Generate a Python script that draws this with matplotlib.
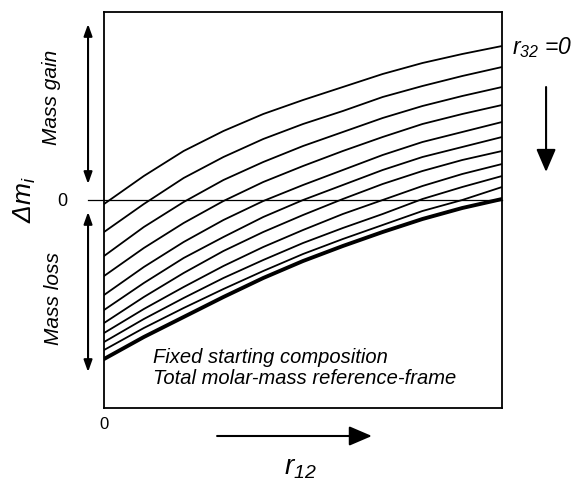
import matplotlib
matplotlib.use("Agg")
import matplotlib.pyplot as plt

# r12 positions along the x axis (fraction of the plotted range)
r12 = [0.0, 0.1, 0.2, 0.3, 0.4, 0.5, 0.6, 0.7, 0.8, 0.9, 1.0]

# Delta m_i curves, top (r32 = 0) to bottom (thick curve)
curve_01 = [-0.04, 0.24, 0.49, 0.69, 0.86, 1.00, 1.13, 1.26, 1.37, 1.46, 1.54]
curve_02 = [-0.32, -0.04, 0.22, 0.43, 0.61, 0.76, 0.89, 1.03, 1.14, 1.24, 1.33]
curve_03 = [-0.56, -0.27, -0.02, 0.20, 0.38, 0.54, 0.68, 0.82, 0.94, 1.04, 1.13]
curve_04 = [-0.76, -0.48, -0.23, -0.01, 0.18, 0.34, 0.49, 0.63, 0.76, 0.86, 0.95]
curve_05 = [-0.95, -0.67, -0.42, -0.20, -0.01, 0.15, 0.30, 0.45, 0.58, 0.68, 0.78]
curve_06 = [-1.10, -0.83, -0.58, -0.37, -0.17, 0.00, 0.15, 0.30, 0.43, 0.53, 0.63]
curve_07 = [-1.23, -0.97, -0.73, -0.51, -0.32, -0.15, 0.01, 0.16, 0.29, 0.40, 0.49]
curve_08 = [-1.33, -1.09, -0.87, -0.66, -0.47, -0.30, -0.14, 0.00, 0.14, 0.26, 0.36]
curve_09 = [-1.42, -1.19, -0.98, -0.78, -0.60, -0.43, -0.28, -0.14, 0.01, 0.13, 0.24]
curve_10 = [-1.50, -1.28, -1.08, -0.89, -0.71, -0.54, -0.39, -0.25, -0.11, 0.00, 0.13]
curve_11 = [-1.59, -1.37, -1.17, -0.97, -0.78, -0.61, -0.46, -0.32, -0.19, -0.08, 0.01]

thin_curves = [curve_01, curve_02, curve_03, curve_04, curve_05,
               curve_06, curve_07, curve_08, curve_09, curve_10]
thick_curve = curve_11

plt.rcParams["font.family"] = ["Liberation Sans", "DejaVu Sans"]
plt.rcParams["mathtext.fontset"] = "custom"
# every math label in the figure is italic, digits included
plt.rcParams["mathtext.rm"] = "Liberation Sans:italic"
plt.rcParams["mathtext.it"] = "Liberation Sans:italic"


def arrow(ax, start, end, style, lw=1.5, scale=10):
    """Draw an arrow between two points given in axes fraction."""
    ax.annotate("", xy=end, xytext=start, xycoords="axes fraction",
                textcoords="axes fraction", annotation_clip=False,
                arrowprops=dict(arrowstyle=style, lw=lw, color="black",
                                mutation_scale=scale, shrinkA=0, shrinkB=0))


def main():
    fig = plt.figure(figsize=(5.78, 4.89), dpi=100)
    ax = fig.add_axes([0.180, 0.1636, 0.6886, 0.8098])

    for values in thin_curves:
        ax.plot(r12, values, color="black", lw=1.3, solid_joinstyle="round")
    ax.plot(r12, thick_curve, color="black", lw=2.8, solid_joinstyle="round")

    # zero line, reaching a little past the left edge
    ax.plot([-0.04, 1.0], [0, 0], color="black", lw=0.9, clip_on=False)

    ax.set_xlim(0, 1)
    ax.set_ylim(-2.08, 1.88)
    ax.set_xticks([])
    ax.set_yticks([])
    for spine in ax.spines.values():
        spine.set_linewidth(1.3)

    # left side annotations
    ax.text(-0.1055, 0.525, "0", transform=ax.transAxes, fontsize=13,
            ha="center", va="center")
    ax.text(-0.199, 0.528, r"$Δm_{i}$", transform=ax.transAxes,
            fontsize=19, rotation=90, ha="center", va="center")
    ax.text(-0.131, 0.788, "Mass gain", transform=ax.transAxes, fontsize=15,
            style="italic", rotation=90, ha="center", va="center")
    ax.text(-0.128, 0.280, "Mass loss", transform=ax.transAxes, fontsize=15,
            style="italic", rotation=90, ha="center", va="center")
    gain_style = "<|-|>,head_length=0.7,head_width=0.25"
    arrow(ax, (-0.0402, 0.5657), (-0.0402, 0.9697), gain_style)
    arrow(ax, (-0.0402, 0.0909), (-0.0402, 0.495), gain_style)

    # right side label and arrow
    ax.text(1.025, 0.914, r"$r_{32}$ =0", transform=ax.transAxes,
            fontsize=16.5, style="italic", ha="left", va="center")
    big_head = "-|>,head_length=1.4,head_width=0.6"
    arrow(ax, (1.1106, 0.8106), (1.1106, 0.596), big_head)

    # text inside the plot
    ax.text(0.123, 0.131, "Fixed starting composition", transform=ax.transAxes,
            fontsize=14.5, style="italic", ha="left", va="center")
    ax.text(0.123, 0.078, "Total molar-mass reference-frame",
            transform=ax.transAxes, fontsize=14.5, style="italic",
            ha="left", va="center")

    # bottom annotations
    ax.text(0.0, -0.0404, "0", transform=ax.transAxes, fontsize=12,
            ha="center", va="center")
    arrow(ax, (0.284, -0.0707), (0.673, -0.0707), big_head)
    ax.text(0.492, -0.149, r"$r_{12}$", transform=ax.transAxes,
            fontsize=20, ha="center", va="center")

    fig.savefig("out.png", dpi=100)


if __name__ == "__main__":
    main()
